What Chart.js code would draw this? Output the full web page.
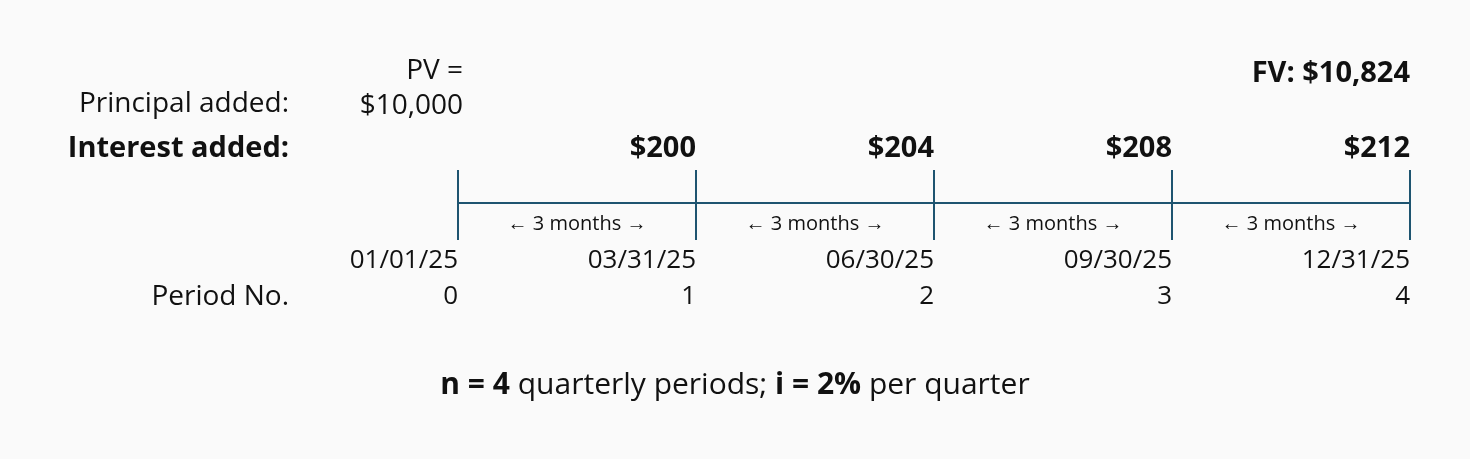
<!DOCTYPE html>
<html><head><meta charset="utf-8">
<script src="https://cdn.jsdelivr.net/npm/chart.js@4"></script>
<style>html,body{margin:0;padding:0;background:#fafafa}#w{width:1470px;height:459px}</style>
</head><body><div id="w"><canvas id="c"></canvas></div>
<script>
const periods = [0, 1, 2, 3, 4];
const dates = ["01/01/25", "03/31/25", "06/30/25", "09/30/25", "12/31/25"];
const interest = [null, 200, 204, 208, 212];
const principal = 10000;
const futureValue = 10824;
const intervalLabel = "← 3 months →";

const fmt = v => "$" + v.toLocaleString("en-US");
const F = "'Open Sans', 'Noto Sans', sans-serif";
const COL = "#1e5470", TXT = "#111";

const timeline = {
  id: "timeline",
  afterDraw(chart) {
    const ctx = chart.ctx, xs = chart.scales.x, ys = chart.scales.y;
    const X = v => xs.getPixelForValue(v), Y = v => ys.getPixelForValue(v);
    ctx.save();
    ctx.strokeStyle = COL; ctx.lineWidth = 2;
    ctx.beginPath(); ctx.moveTo(X(periods[0]), Y(203)); ctx.lineTo(X(periods[periods.length-1]), Y(203)); ctx.stroke();
    periods.forEach(p => { ctx.beginPath(); ctx.moveTo(X(p), Y(170)); ctx.lineTo(X(p), Y(240)); ctx.stroke(); });
    ctx.fillStyle = TXT; ctx.textBaseline = "middle";
    const t = (s, x, y, font, align) => { ctx.font = font; ctx.textAlign = align; ctx.fillText(s, x, y); };
    const R = `28px ${F}`, B = `bold 29px ${F}`;
    t("PV =", X(0) + 5, Y(71), R, "right");
    t(fmt(principal), X(0) + 5, Y(106), R, "right");
    t("Principal added:", 289, Y(104), R, "right");
    t("Interest added:", 289, Y(149), B, "right");
    t("Period No.", 289, Y(297), R, "right");
    t("FV: " + fmt(futureValue), X(4), Y(74), B, "right");
    periods.forEach((p, i) => {
      if (interest[i] != null) t(fmt(interest[i]), X(p), Y(149), B, "right");
      t(dates[i], X(p), Y(261), `26px ${F}`, "right");
      t(String(p), X(p), Y(297), `26px ${F}`, "right");
      if (i > 0) t(intervalLabel, (X(p) + X(periods[i-1])) / 2, Y(224), `20px ${F}`, "center");
    });
    ctx.textAlign = "left";
    const parts = [["n = 4", true], [" quarterly periods; ", false], ["i = 2%", true], [" per quarter", false]];
    const fz = `30px ${F}`;
    let w = 0; parts.forEach(([s, b]) => { ctx.font = (b ? "bold " : "") + fz; w += ctx.measureText(s).width; });
    let x = 735 - w / 2;
    parts.forEach(([s, b]) => { ctx.font = (b ? "bold " : "") + fz; ctx.fillText(s, x, Y(385)); x += ctx.measureText(s).width; });
    ctx.restore();
  }
};

new Chart(document.getElementById("c"), {
  type: "scatter",
  data: { datasets: [{ data: periods.map(p => ({ x: p, y: 203 })), pointRadius: 0, showLine: false }] },
  options: {
    responsive: true, maintainAspectRatio: false, animation: false,
    layout: { padding: { left: 458, right: 60, top: 0, bottom: 0 } },
    plugins: { legend: { display: false }, tooltip: { enabled: false } },
    scales: {
      x: { type: "linear", min: 0, max: 4, display: false },
      y: { type: "linear", min: 0, max: 459, reverse: true, display: false }
    }
  },
  plugins: [timeline]
});
</script></body></html>
